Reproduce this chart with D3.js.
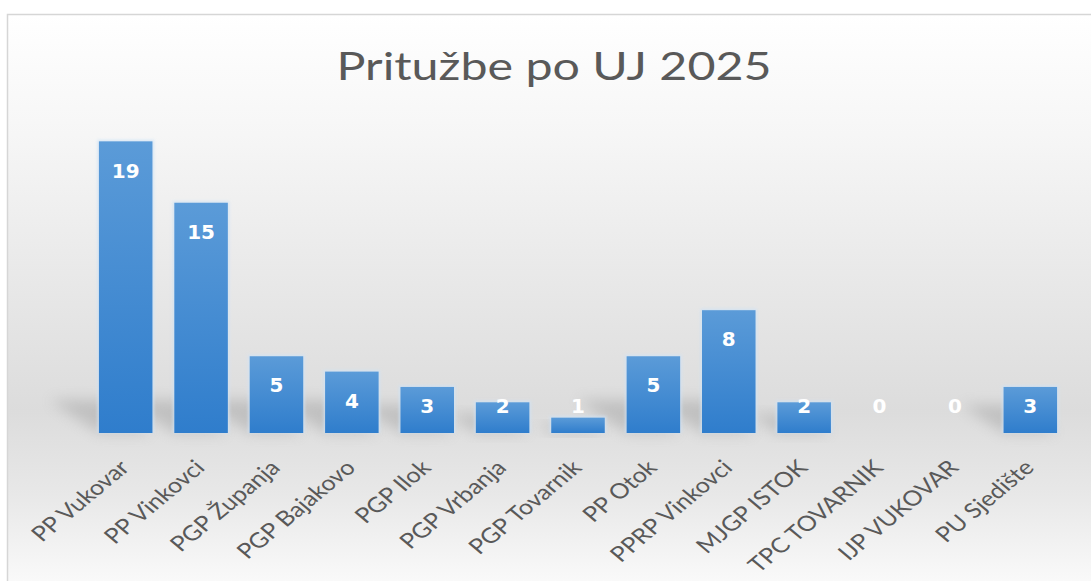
<!DOCTYPE html>
<html>
<head>
<meta charset="utf-8">
<script src="https://cdn.jsdelivr.net/npm/d3@7"></script>
<style>
  body { margin: 0; background: #fff; }
  svg { display: block; }
</style>
</head>
<body>
<script>
// podaci
var categories = ["PP Vukovar", "PP Vinkovci", "PGP Županja", "PGP Bajakovo", "PGP Ilok",
  "PGP Vrbanja", "PGP Tovarnik", "PP Otok", "PPRP Vinkovci", "MJGP ISTOK",
  "TPC TOVARNIK", "IJP VUKOVAR", "PU Sjedište"];
var values = [19, 15, 5, 4, 3, 2, 1, 5, 8, 2, 0, 0, 3];
var title = "Pritužbe po UJ 2025";

var W = 1091, H = 581;
var base = 433;

var svg = d3.select("body").append("svg")
    .attr("width", W)
    .attr("height", H);

var defs = svg.append("defs");

// pozadina s gradijentom
var bg = defs.append("linearGradient")
    .attr("id", "bg").attr("x1", 0).attr("y1", 0).attr("x2", 0).attr("y2", 1);
bg.append("stop").attr("offset", "0").attr("stop-color", "#ffffff");
bg.append("stop").attr("offset", "0.2").attr("stop-color", "#f6f6f6");
bg.append("stop").attr("offset", "0.66").attr("stop-color", "#dcdcdc");
bg.append("stop").attr("offset", "0.8").attr("stop-color", "#e8e8e8");
bg.append("stop").attr("offset", "0.95").attr("stop-color", "#fafafa");
bg.append("stop").attr("offset", "1").attr("stop-color", "#ffffff");

// stupci
var barGrad = defs.append("linearGradient")
    .attr("id", "bar").attr("x1", 0).attr("y1", 0).attr("x2", 0).attr("y2", 1);
barGrad.append("stop").attr("offset", "0").attr("stop-color", "#5b9bd8");
barGrad.append("stop").attr("offset", "1").attr("stop-color", "#2f7dcc");

var blur = defs.append("filter").attr("id", "blur")
    .attr("x", "-50%").attr("y", "-50%").attr("width", "200%").attr("height", "200%");
blur.append("feGaussianBlur").attr("stdDeviation", 7);

var glow = defs.append("filter").attr("id", "glow")
    .attr("x", "-20%").attr("y", "-20%").attr("width", "140%").attr("height", "140%");
glow.append("feGaussianBlur").attr("stdDeviation", 1.5);

svg.append("rect")
    .attr("x", 7.5).attr("y", 14.5)
    .attr("width", W + 20).attr("height", H + 20)
    .attr("fill", "url(#bg)")
    .attr("stroke", "#d6d6d6")
    .attr("stroke-width", 1.5);

// naslov (slika je malo razvucena po sirini)
svg.append("text")
    .attr("transform", "translate(554,80) scale(1.24,1)")
    .attr("text-anchor", "middle")
    .style("font-family", "Lato, 'Open Sans', sans-serif")
    .style("font-size", "39px")
    .attr("fill", "#595959")
    .text(title);

var x = d3.scaleBand()
    .domain(categories)
    .range([88, 1068])
    .paddingInner(0.29)
    .paddingOuter(0.145);

var y = d3.scaleLinear()
    .domain([0, 20])
    .range([base, 126]);

// sjene iza stupaca
svg.append("g").selectAll("path")
  .data(values)
  .enter().append("path")
    .attr("d", function(d, i) {
      var x0 = x(categories[i]), x1 = x0 + x.bandwidth();
      var h = Math.min(base - y(d), 55);
      var dx = h * 0.9, dy = h * 0.6;
      return "M" + x0 + "," + base + "L" + x1 + "," + base +
             "L" + (x1 - dx) + "," + (base - dy) + "L" + (x0 - dx) + "," + (base - dy) + "Z";
    })
    .attr("fill", "#808080")
    .attr("opacity", 0.3)
    .attr("filter", "url(#blur)");

// svijetli rub
svg.append("g").selectAll("rect")
  .data(values)
  .enter().append("rect")
    .attr("x", function(d, i) { return x(categories[i]) - 1.5; })
    .attr("y", function(d) { return y(d) - 1.5; })
    .attr("width", x.bandwidth() + 3)
    .attr("height", function(d) { return d > 0 ? base - y(d) + 1.5 : 0; })
    .attr("fill", "#cfe2f5")
    .attr("opacity", 0.8)
    .attr("filter", "url(#glow)");

svg.append("g").selectAll("rect")
  .data(values)
  .enter().append("rect")
    .attr("x", function(d, i) { return x(categories[i]); })
    .attr("y", function(d) { return y(d); })
    .attr("width", x.bandwidth())
    .attr("height", function(d) { return base - y(d); })
    .attr("fill", "url(#bar)");

// vrijednosti
svg.append("g").selectAll("text")
  .data(values)
  .enter().append("text")
    .attr("x", function(d, i) { return x(categories[i]) + x.bandwidth() / 2; })
    .attr("y", function(d) { return Math.min(y(d) + 29, base - 27); })
    .attr("dy", "0.36em")
    .attr("text-anchor", "middle")
    .style("font-family", "'DejaVu Sans', Verdana, sans-serif")
    .style("font-weight", "bold")
    .style("font-size", "20px")
    .attr("fill", "#ffffff")
    .text(function(d) { return d; });

// x os
var xAxis = svg.append("g")
    .attr("transform", "translate(0," + base + ")")
    .call(d3.axisBottom(x).tickSize(0).tickPadding(0));
xAxis.select(".domain").remove();
xAxis.selectAll("text")
    .attr("x", 0)
    .attr("y", 0)
    .attr("dy", 0)
    .attr("transform", "translate(5,36) scale(1.2,1) rotate(-45)")
    .attr("text-anchor", "end")
    .style("font-family", "Lato, 'Open Sans', sans-serif")
    .style("font-size", "21px")
    .attr("fill", "#595959");
</script>
</body>
</html>
